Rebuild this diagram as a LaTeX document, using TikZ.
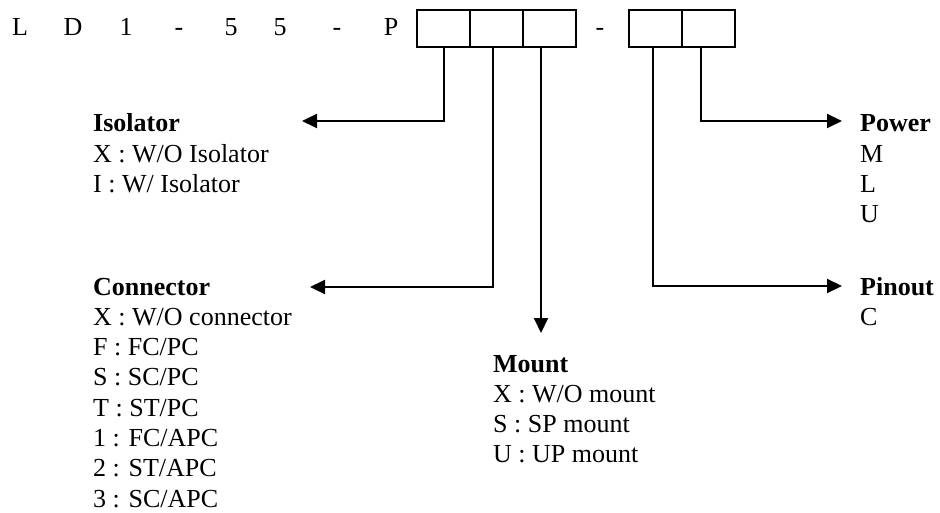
\documentclass[tikz,border=0pt]{standalone}
\usepackage{fontspec}
\setmainfont{Liberation Serif}
\usetikzlibrary{arrows.meta,calc}

\tikzset{
  txt/.style={anchor=base west, inner sep=0pt, font=\fontsize{26}{30}\selectfont},
  head/.style={txt, font=\fontsize{26}{30}\selectfont\bfseries},
  code/.style={anchor=base, inner sep=0pt, font=\fontsize{26}{30}\selectfont},
  cell/.style={draw, line width=2pt, minimum width=53pt, minimum height=37pt, inner sep=0pt},
  link/.style={line width=2pt, -{Triangle[length=15pt,width=14pt]}}
}

\begin{document}
\begin{tikzpicture}[x=1pt,y=-1pt]
\useasboundingbox (0,0) rectangle (940,513);
% part number and its cells
\foreach \ch/\x [count=\i] in {L/20,D/73,1/126,-/179,5/231,5/280,-/337,P/391}
  \node[code] (ch\i) at (\x,36) {\ch};
\node[cell] (b1) at (443.5,28.5) {};
\node[cell] (b2) at (496.5,28.5) {};
\node[cell] (b3) at (549.5,28.5) {};
\node[code] (dash) at (600,36) {-};
\node[cell] (c1) at (655.5,28.5) {};
\node[cell] (c2) at (708.5,28.5) {};

% arrow ends
\coordinate (isotip) at (302,121);
\coordinate (contip) at (310,287);
\coordinate (mnttip) at (541,333);
\coordinate (pwrtip) at (842,121);
\coordinate (pintip) at (842,286);

\draw[link] ([xshift=0.5pt]b1.south) |- (isotip);
\draw[link] ([xshift=-3.5pt]b2.south) |- (contip);
\draw[link] (b3.south -| mnttip) -- (mnttip);
\draw[link] ([xshift=-2.5pt]c1.south) |- (pintip);
\draw[link] ([xshift=-7.5pt]c2.south) |- (pwrtip);

% option lists
\node[head] (iso) at (93,132) {Isolator};
\foreach \t [count=\i] in {X : W/O Isolator, I : W/ Isolator}
  \node[txt] (iso\i) at ($(iso.base west)+(0,\i*30.3)$) {\t};

\node[head] (con) at (93,295) {Connector};
\foreach \t [count=\i] in {X : W/O connector, F : FC/PC, S : SC/PC, T : ST/PC,
    1 : FC/APC, 2 : ST/APC, 3 : SC/APC}
  \node[txt] (con\i) at ($(con.base west)+(0,\i*30.3)$) {\t};

\node[head] (mnt) at (493,372) {Mount};
\foreach \t [count=\i] in {X : W/O mount, S : SP mount, U : UP mount}
  \node[txt] (mnt\i) at ($(mnt.base west)+(0,\i*30.3)$) {\t};

\node[head] (pwr) at (860,132) {Power};
\foreach \t [count=\i] in {M, L, U}
  \node[txt] (pwr\i) at ($(pwr.base west)+(0,\i*30.3)$) {\t};

\node[head] (pin) at (860,295) {Pinout};
\node[txt] (pin1) at ($(pin.base west)+(0,30.3)$) {C};
\end{tikzpicture}
\end{document}
